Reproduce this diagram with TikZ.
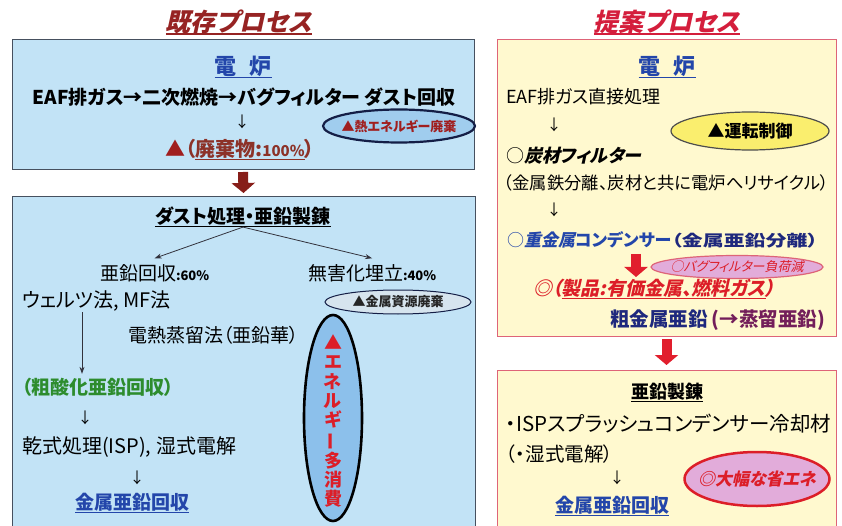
\documentclass[tikz,border=0pt]{standalone}
\usepackage{fontspec}
\setmainfont{Noto Sans CJK JP}[RawFeature=+palt]
\newfontfamily\slfont{Noto Sans CJK JP}[RawFeature=+palt, FakeSlant=0.22]
\usetikzlibrary{arrows.meta,shapes.geometric}
\newsavebox{\myulbox}
\newcommand{\myul}[1]{\sbox{\myulbox}{#1}\leavevmode\rlap{\rule[-3.5pt]{\wd\myulbox}{1.2pt}}\usebox{\myulbox}}
\definecolor{boxblue}{RGB}{194,227,246}
\definecolor{boxedge}{RGB}{70,80,95}
\definecolor{boxyel}{RGB}{255,249,207}
\definecolor{pinkedge}{RGB}{222,100,120}
\definecolor{titlebrown}{RGB}{150,35,35}
\definecolor{titlered}{RGB}{212,30,60}
\definecolor{txtblue}{RGB}{35,70,170}
\definecolor{txtnavy}{RGB}{30,40,125}
\definecolor{txtpurple}{RGB}{115,30,90}
\definecolor{txtgreen}{RGB}{45,140,45}
\definecolor{txtred}{RGB}{220,30,40}
\definecolor{darkred}{RGB}{160,30,30}
\definecolor{wastebrown}{RGB}{140,50,40}
\definecolor{fatbrown}{RGB}{135,30,25}
\definecolor{fatred}{RGB}{225,30,45}
\definecolor{arrowgray}{RGB}{50,50,60}
\definecolor{ellnavy}{RGB}{20,30,70}
\definecolor{ellblue}{RGB}{160,205,238}
\definecolor{ellblue2}{RGB}{140,192,235}
\definecolor{ellgray}{RGB}{214,228,238}
\definecolor{ellyel}{RGB}{250,238,110}
\definecolor{ellpink}{RGB}{226,172,218}
\newcommand{\fsz}[1]{\fontsize{#1}{#1}\selectfont}
\begin{document}
\begin{tikzpicture}[x=1pt,y=-1pt,
  every node/.style={inner sep=0pt, outer sep=0pt},
  bluebox/.style={draw=boxedge, line width=1pt, fill=boxblue, anchor=north west},
  yelbox/.style={draw=pinkedge, line width=1pt, fill=boxyel, anchor=north west},
  txt/.style={anchor=west},
  thinarrow/.style={draw=arrowgray, line width=0.8pt, -{Stealth[length=7pt,width=5pt]}},
  fatL/.style={draw=fatbrown, line width=10pt, -{Triangle[length=10pt,width=23pt]}},
  fatR/.style={draw=fatred, line width=10pt, -{Triangle[length=10pt,width=23pt]}},
  downmark/.style={font=\fsz{15}},
  oval/.style={ellipse, inner sep=0pt}
]
\useasboundingbox (0,0) rectangle (842,526);
\clip (0,0) rectangle (842,526);
\fill[white] (0,0) rectangle (842,526);

% ---------------- left: existing process ----------------
\node[font=\fsz{25}\slfont\bfseries, text=titlebrown] (lt) at (239,22) {\myul{既存プロセス}};

\node[bluebox, minimum width=462pt, minimum height=130pt] (b1) at (12,40) {};
\node[font=\fsz{22}\bfseries, text=txtblue] (ef1) at (243,67) {\myul{電\hspace{13pt}炉}};
\node[font=\fsz{19}\bfseries] (eaf) at (244,97) {EAF排ガス→二次燃焼→バグフィルター ダスト回収};
\node[downmark] (d1) at (242,122) {↓};
\node[oval, draw=ellnavy, line width=2.2pt, fill=ellblue, minimum width=152pt, minimum height=33pt] (heat) at (399,126) {};
\node[font=\fsz{13}\bfseries, text=darkred] (heatt) at (heat.center) {▲熱エネルギー廃棄};
\node[font=\fsz{20}\bfseries] (waste) at (240,150) {\textcolor{darkred}{▲}\textcolor{wastebrown}{（\myul{廃棄物:{\fsz{15}100\%}}）}};

\node[bluebox, minimum width=463pt, minimum height=345pt] (b2) at (12,197) {};
\draw[fatL] ([yshift=-2pt]b1.south) -- ([yshift=4pt]b2.north);

\node[font=\fsz{19}\bfseries] (dh) at (243,217) {\myul{ダスト処理・亜鉛製錬}};
\node[txt, font=\fsz{19}] (zinc) at (100,273) {亜鉛回収{\fsz{13}\bfseries :60\%}};
\node[txt, font=\fsz{19}] (land) at (308,273) {無害化埋立{\fsz{13}\bfseries :40\%}};
\draw[thinarrow] (dh.south) -- ([yshift=6pt]zinc.north);
\draw[thinarrow] (dh.south) -- ([yshift=6pt]land.north);
\node[txt, font=\fsz{20}] (welz) at (22,301) {ウェルツ法, MF法};
\node[oval, draw=ellnavy, line width=1pt, fill=ellgray, minimum width=146pt, minimum height=24pt] (metal) at (398,302) {};
\node[font=\fsz{13}\bfseries, text=black!85] (metalt) at (metal.center) {▲金属資源廃棄};
\node[txt, font=\fsz{19}] (elec) at (128,335) {電熱蒸留法（亜鉛華）};
\node[txt, font=\fsz{19}\bfseries, text=txtgreen] (crude) at (22,387) {（粗酸化亜鉛回収）};
\coordinate (wa) at (82,312);
\draw[thinarrow] (wa) -- ([yshift=4pt]wa |- crude.north);
\node[downmark] (d2) at (85,418) {↓};
\node[txt, font=\fsz{20}] (isp) at (22,447) {乾式処理(ISP), 湿式電解};
\node[downmark] (d3) at (137,478) {↓};
\node[font=\fsz{19}\bfseries, text=txtblue] (zm1) at (132,503) {\myul{金属亜鉛回収}};

\node[oval, draw=black, line width=2.6pt, fill=ellblue2, minimum width=58pt, minimum height=206pt] (energy) at (333,418) {};
\node[font=\fontsize{18}{19.4}\selectfont\bfseries, text=txtred, align=center] (energyt) at ([yshift=-3pt]energy.center)
  {▲\\エ\\ネ\\ル\\ギ\\\rotatebox[origin=c]{90}{ー}\\多\\消\\費};

% ---------------- right: proposed process ----------------
\node[font=\fsz{25}\slfont\bfseries, text=titlered] (rt) at (667,22) {\myul{提案プロセス}};

\node[yelbox, minimum width=339pt, minimum height=296pt] (b3) at (497,40) {};
\node[font=\fsz{22}\bfseries, text=txtblue] (ef2) at (667,67) {\myul{電\hspace{13pt}炉}};
\node[txt, font=\fsz{18}] (direct) at (506,97) {EAF排ガス直接処理};
\node[downmark] (d4) at (554,125) {↓};
\node[oval, draw=black!70, line width=1.2pt, fill=ellyel, minimum width=158pt, minimum height=38pt] (ctrl) at (750,131) {};
\node[font=\fsz{17}\bfseries] (ctrlt) at (ctrl.center) {▲運転制御};
\node[txt, font=\fsz{18}] (cf) at (506,156) {○{\slfont\bfseries 炭材フィルター}};
\node[txt, font=\fsz{17.3}] (sep) at (504,183) {（金属鉄分離、炭材と共に電炉へリサイクル）};
\node[downmark] (d5) at (554,210) {↓};
\node[txt, font=\fsz{17}, text=txtblue] (cond) at (507,240) {○{\slfont\bfseries 重金属}{\bfseries コンデンサー}\scalebox{1.35}[1]{\fsz{15.5}\bfseries\color{txtnavy}（金属亜鉛分離）}};
\coordinate (ra1) at (636,254);
\coordinate (ra2) at (636,277);
\draw[fatR] (ra1) -- (ra2);
\node[oval, draw=pinkedge, line width=1.2pt, fill=ellpink, minimum width=172pt, minimum height=23pt] (bag) at (737,267) {};
\node[font=\fsz{13}\slfont, text=txtred] (bagt) at (bag.center) {○バグフィルター負荷減};
\node[txt, font=\fsz{19}\slfont\bfseries, text=txtred] (prod) at (533,289) {◎（\myul{製品:有価金属、燃料ガス}）};
\node[txt, font=\fsz{19.5}\bfseries] (crudezn) at (610,320) {\textcolor{txtnavy}{粗金属亜鉛} \textcolor{txtpurple}{(→蒸留亜鉛)}};

\node[yelbox, minimum width=339pt, minimum height=170pt] (b4) at (497,370) {};
\draw[fatR] ([yshift=-3pt]b3.south) -- ([yshift=5pt]b4.north);
\node[font=\fsz{18}\bfseries] (zs) at (667,393) {\myul{亜鉛製錬}};
\node[txt, font=\fsz{20.5}] (ispc) at (506,424) {・ISPスプラッシュコンデンサー冷却材};
\node[txt, font=\fsz{19.5}] (wet) at (506,454) {（・湿式電解）};
\node[downmark] (d6) at (617,478) {↓};
\node[font=\fsz{19}\bfseries, text=txtblue] (zm2) at (612,506) {\myul{金属亜鉛回収}};
\node[oval, draw=txtred, line width=2.5pt, fill=ellpink, minimum width=145pt, minimum height=54pt] (save) at (757,479) {};
\node[font=\fsz{17}\slfont\bfseries, text=txtred] (savet) at (save.center) {◎大幅な省エネ};
\end{tikzpicture}
\end{document}
